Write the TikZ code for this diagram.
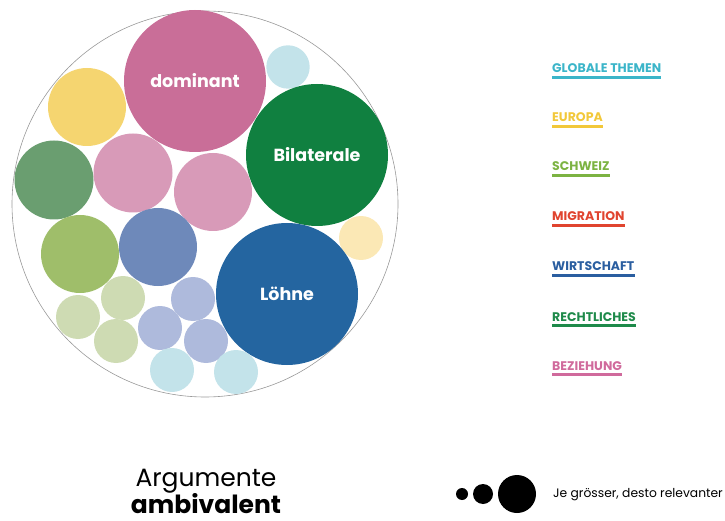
\documentclass[tikz,border=0pt]{standalone}
\usepackage{fontspec}
\setmainfont{Poppins}
\definecolor{cPinkD}{HTML}{C96E98}
\definecolor{cPinkL}{HTML}{D89AB8}
\definecolor{cGreenD}{HTML}{108040}
\definecolor{cGreenM}{HTML}{6A9E70}
\definecolor{cGreen}{HTML}{9FBE6A}
\definecolor{cGreenL}{HTML}{CEDBB3}
\definecolor{cBlueD}{HTML}{2465A0}
\definecolor{cBlueM}{HTML}{6E89BA}
\definecolor{cLav}{HTML}{AEBADC}
\definecolor{cYel}{HTML}{F5D570}
\definecolor{cYelL}{HTML}{FBE8B5}
\definecolor{cCyanL}{HTML}{C3E3EA}
\definecolor{lCyan}{HTML}{3BB5C9}
\definecolor{lYel}{HTML}{F2C83A}
\definecolor{lGreen}{HTML}{7CB342}
\definecolor{lRed}{HTML}{E0442F}
\definecolor{lBlue}{HTML}{2A5EA0}
\definecolor{lGreenD}{HTML}{1E8A4A}
\definecolor{lPink}{HTML}{D06A9C}
\begin{document}
\begin{tikzpicture}[x=1pt,y=-1pt,
  bub/.style args={#1/#2}{circle,fill=#1,minimum size=#2*2pt,inner sep=0pt,text=white,font=\fontsize{17.5}{17.5}\selectfont\bfseries},
  leg/.style={anchor=base west,inner sep=0pt,text=#1,font=\fontsize{12.5}{12.5}\selectfont\bfseries},
  dotb/.style={circle,fill=black,inner sep=0pt,minimum size=#1*2pt}]
\useasboundingbox (0,0) rectangle (725,521);
\node[circle,draw=gray!80,line width=0.6pt,minimum size=386pt,inner sep=0pt] (outer) at (205,204) {};
\node[bub=cPinkD/71] (dom) at (195,81) {dominant};
\node[bub=cCyanL/21.7] (c1) at (288,67) {};
\node[bub=cYel/39] (c2) at (87,107) {};
\node[bub=cGreenD/71] (bil) at (317,155) {Bilaterale};
\node[bub=cGreenM/39.5] (c3) at (54,180) {};
\node[bub=cPinkL/39.5] (c4) at (133,173) {};
\node[bub=cPinkL/39] (c5) at (213,192) {};
\node[bub=cYelL/22] (c6) at (361,238) {};
\node[bub=cGreen/39] (c7) at (80,254) {};
\node[bub=cBlueM/39] (c8) at (158,247) {};
\node[bub=cBlueD/71] (loh) at (287,294) {Löhne};
\node[bub=cGreenL/22] (c9) at (123,298) {};
\node[bub=cGreenL/22] (c10) at (78,317) {};
\node[bub=cGreenL/22] (c11) at (116,341) {};
\node[bub=cLav/22] (c12) at (193,299) {};
\node[bub=cLav/22] (c13) at (160,328) {};
\node[bub=cLav/22] (c14) at (206,341) {};
\node[bub=cCyanL/22] (c15) at (172,370) {};
\node[bub=cCyanL/22] (c16) at (236,372) {};
% legend
\foreach \n/\t/\c/\y in {l1/GLOBALE THEMEN/lCyan/73, l2/EUROPA/lYel/122, l3/SCHWEIZ/lGreen/171, l4/MIGRATION/lRed/221, l5/WIRTSCHAFT/lBlue/271, l6/RECHTLICHES/lGreenD/321, l7/BEZIEHUNG/lPink/370}{
  \node[leg=\c] (\n) at (552,\y) {\t};
  \draw[\c,line width=2.2pt] ([yshift=-4.5pt]\n.base west) -- ([yshift=-4.5pt]\n.base east);
}
% bottom
\node[anchor=base,inner sep=0pt,font=\fontsize{25}{25}\selectfont] (arg) at (206,486) {Argumente};
\node[anchor=base,inner sep=0pt,font=\fontsize{25}{25}\selectfont\bfseries] (amb) at (206,513) {ambivalent};
\node[dotb=6] (d1) at (462,494) {};
\node[dotb=10] (d2) at (483,494) {};
\node[dotb=19] (d3) at (517,494) {};
\node[anchor=base west,inner sep=0pt,font=\fontsize{12.3}{12.3}\selectfont] (je) at (553,497) {Je grösser, desto relevanter};
\end{tikzpicture}
\end{document}
